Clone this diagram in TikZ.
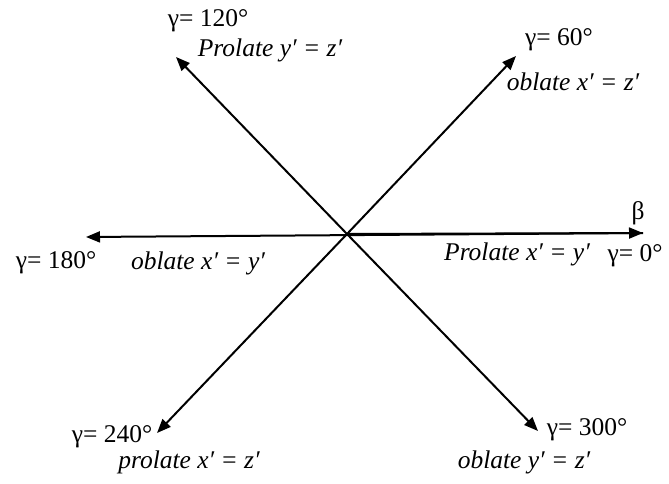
\documentclass[tikz,border=0pt]{standalone}
\usepackage{fontspec}
\setmainfont{Liberation Serif}
\usetikzlibrary{arrows.meta}
\tikzset{
  arr/.style={line width=2pt, -{Triangle[length=14pt,width=11pt]}},
  lbl/.style={inner sep=0pt, font=\fontsize{25.5}{30}\selectfont},
  ilbl/.style={inner sep=0pt, font=\fontsize{25.5}{30}\selectfont\itshape}
}
\begin{document}
\begin{tikzpicture}[x=1pt,y=1pt]
\useasboundingbox (0,0) rectangle (669,483);
\coordinate (O) at (347,249);
\coordinate (L) at (86,246);
\coordinate (R) at (643,250);
\coordinate (UL) at (176,426);
\coordinate (UR) at (516,427);
\coordinate (LL) at (157,50);
\coordinate (LR) at (538,52);
\draw[arr] (R) -- (L);
\draw[arr] (O) -- (R);
\draw[arr] (O) -- (UL);
\draw[arr] (O) -- (UR);
\draw[arr] (O) -- (LL);
\draw[arr] (O) -- (LR);
\node[lbl] (g120) at (208,462) {γ= 120°};
\node[ilbl] (p120) at (270,433) {Prolate y′ = z′};
\node[lbl] (g60) at (559,443) {γ= 60°};
\node[ilbl] (p60) at (573,401) {oblate x′ = z′};
\node[lbl] (g180) at (56,220) {γ= 180°};
\node[ilbl] (p180) at (198,220) {oblate x′ = y′};
\node[lbl] (beta) at (638,270) {β};
\node[ilbl] (p0) at (517,229) {Prolate x′ = y′};
\node[lbl] (g0) at (635,227) {γ= 0°};
\node[lbl] (g240) at (112,46) {γ= 240°};
\node[ilbl] (p240) at (189,21) {prolate x′ = z′};
\node[lbl] (g300) at (587,53) {γ= 300°};
\node[ilbl] (p300) at (524,21) {oblate y′ = z′};
\end{tikzpicture}
\end{document}
